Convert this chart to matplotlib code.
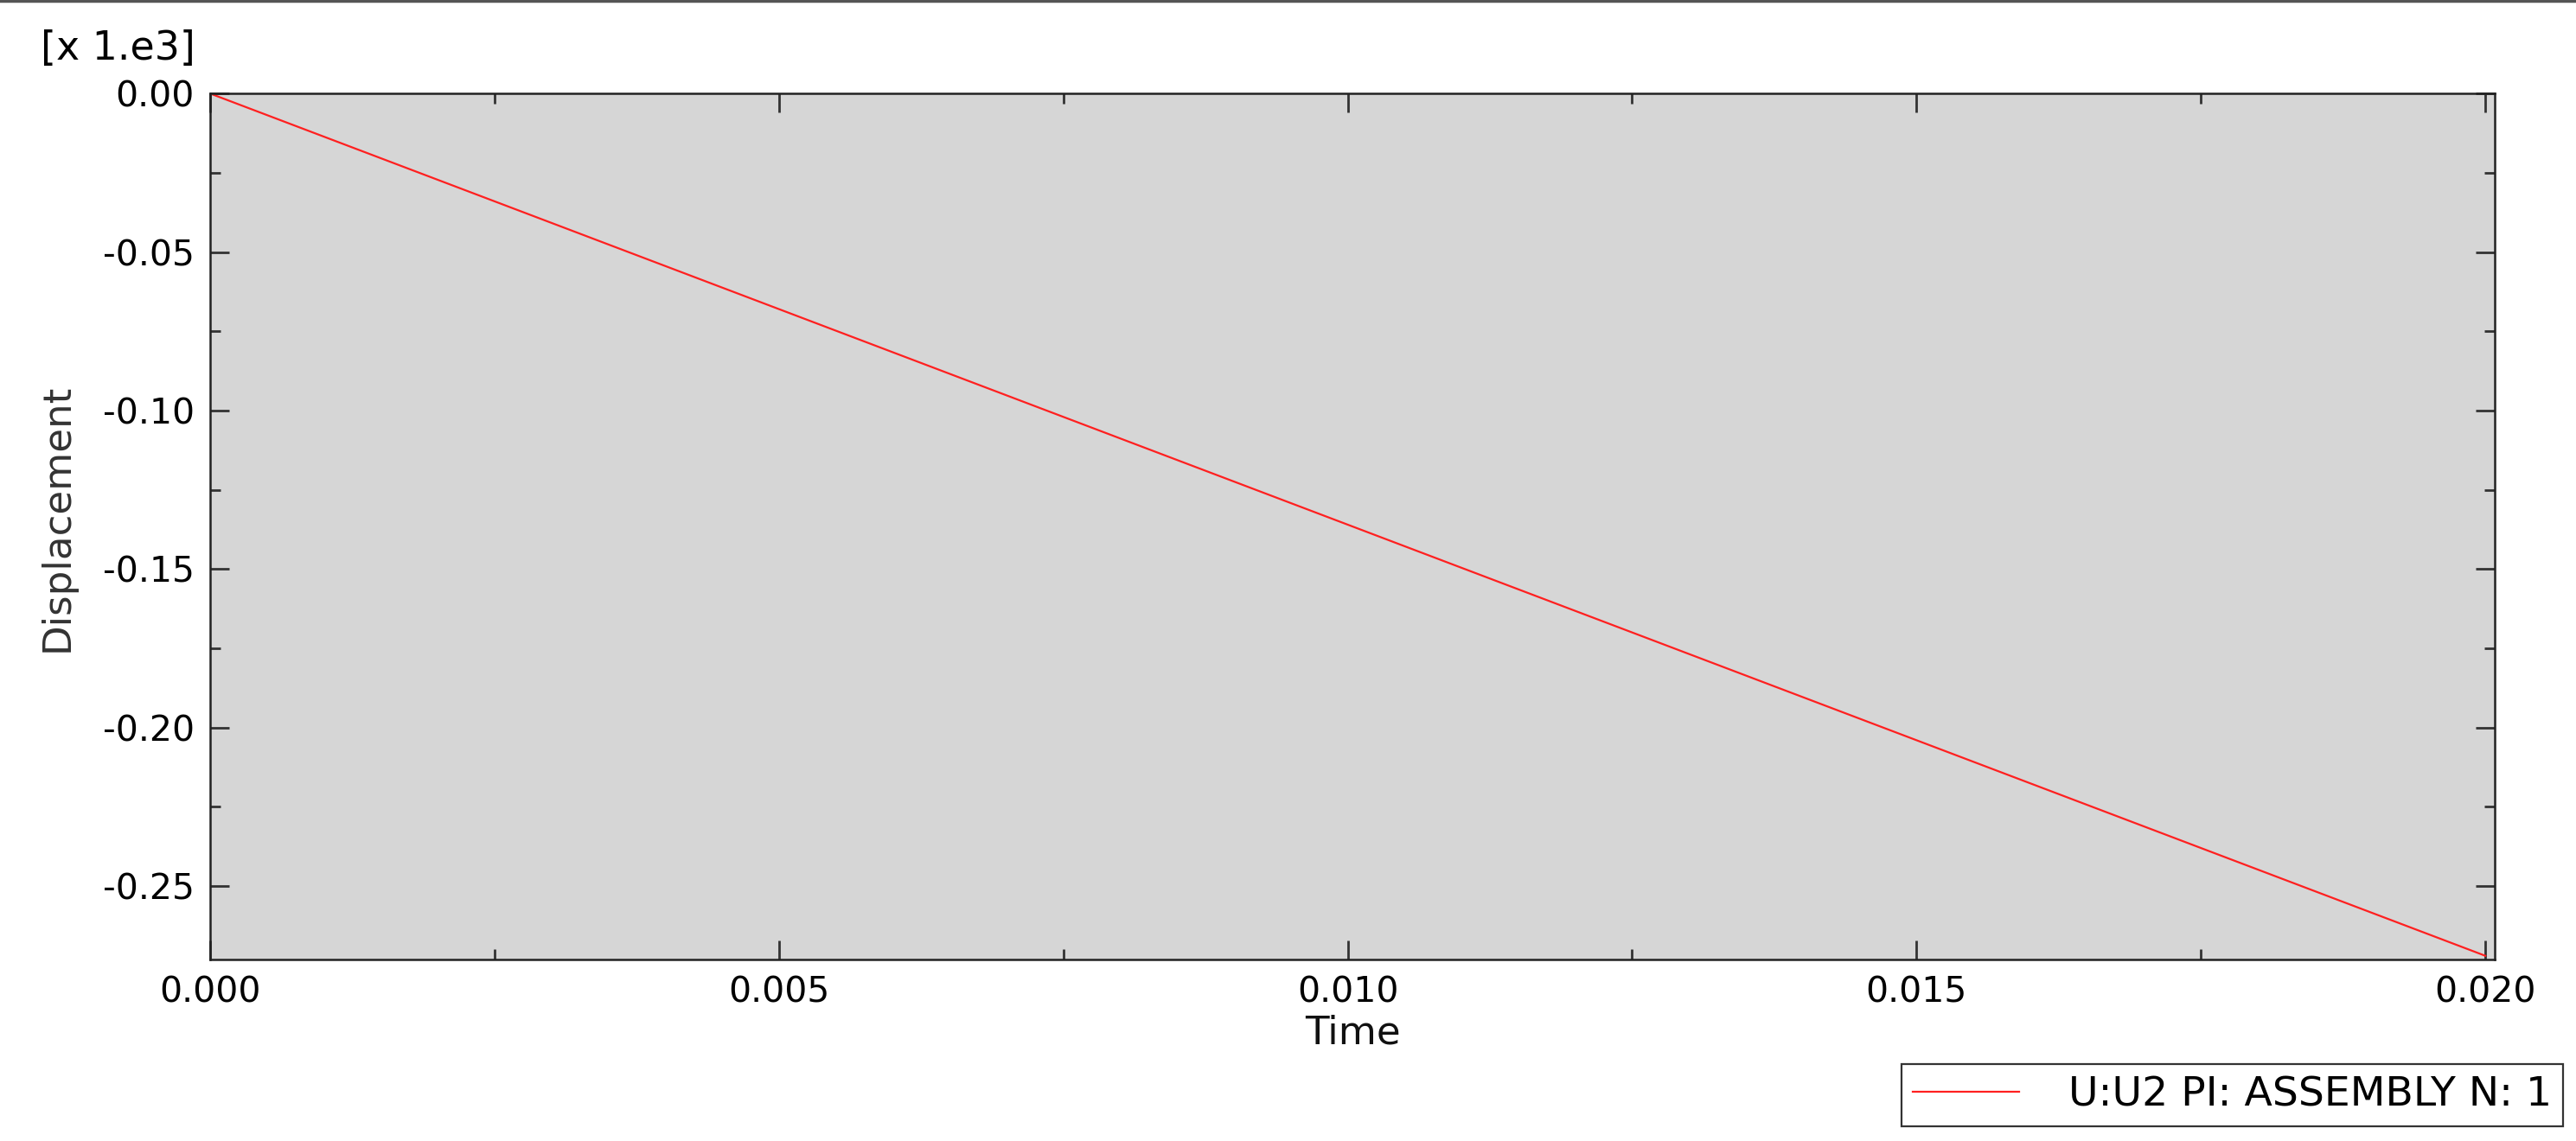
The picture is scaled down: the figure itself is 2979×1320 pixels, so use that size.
import matplotlib
matplotlib.use("Agg")
import matplotlib.pyplot as plt
from matplotlib.ticker import MultipleLocator, FormatStrFormatter
from matplotlib.lines import Line2D

# Data (displacement shown in units of 1e3)
time = [0.0, 0.005, 0.010, 0.015, 0.020]
displacement = [0.0, -0.068, -0.136, -0.204, -0.272]
series_label = "U:U2 PI: ASSEMBLY N: 1"
x_label = "Time"
y_label = "Displacement"
multiplier_text = "[x 1.e3]"

plt.rcParams['font.family'] = ['DejaVu Sans']
plt.rcParams['axes.unicode_minus'] = False

fig = plt.figure(figsize=(29.79, 13.20), dpi=100)
ax = fig.add_axes([0.0816, 0.159, 0.9685 - 0.0816, 0.918 - 0.159])
ax.set_facecolor('#d6d6d6')

ax.plot(time, displacement, color='#ff2020', lw=1.6, label=series_label)

ax.set_xlim(0.0, 0.020084)
ax.set_ylim(-0.2732, 0.0)

ax.xaxis.set_major_locator(MultipleLocator(0.005))
ax.xaxis.set_minor_locator(MultipleLocator(0.0025))
ax.yaxis.set_major_locator(MultipleLocator(0.05))
ax.yaxis.set_minor_locator(MultipleLocator(0.025))
ax.xaxis.set_major_formatter(FormatStrFormatter('%.3f'))
ax.yaxis.set_major_formatter(FormatStrFormatter('%.2f'))

ax.tick_params(which='both', direction='in', top=True, right=True,
               colors='#333333', labelcolor='black', width=2.0)
ax.tick_params(which='major', length=16, labelsize=29.5, pad=13)
ax.tick_params(which='minor', length=8.5)

for sp in ax.spines.values():
    sp.set_linewidth(1.8)
    sp.set_color('#222222')

ax.set_xlabel(x_label, fontsize=32.5, color='#111111', labelpad=4)
ax.set_ylabel(y_label, fontsize=32.5, color='#333333', labelpad=20)
ax.yaxis.set_label_coords(-0.059, 0.51)

fig.text(226 / 2979, 1 - 57 / 1320, multiplier_text, fontsize=33,
         ha='right', va='center', color='black')

leg = fig.legend(loc='lower right', bbox_to_anchor=(0.995, 0.013),
                 bbox_transform=fig.transFigure, borderaxespad=0,
                 fontsize=34, frameon=True, fancybox=False, shadow=False,
                 handlelength=2.6, handletextpad=1.2, borderpad=0.28)
frame = leg.get_frame()
frame.set_edgecolor('#333333')
frame.set_linewidth(1.6)
frame.set_facecolor('white')
frame.set_alpha(1)

# top border line of the window
fig.add_artist(Line2D([0, 1], [0.999, 0.999], transform=fig.transFigure,
                      color='#555555', lw=2.5))

fig.savefig('out.png', dpi=100, facecolor='white')
